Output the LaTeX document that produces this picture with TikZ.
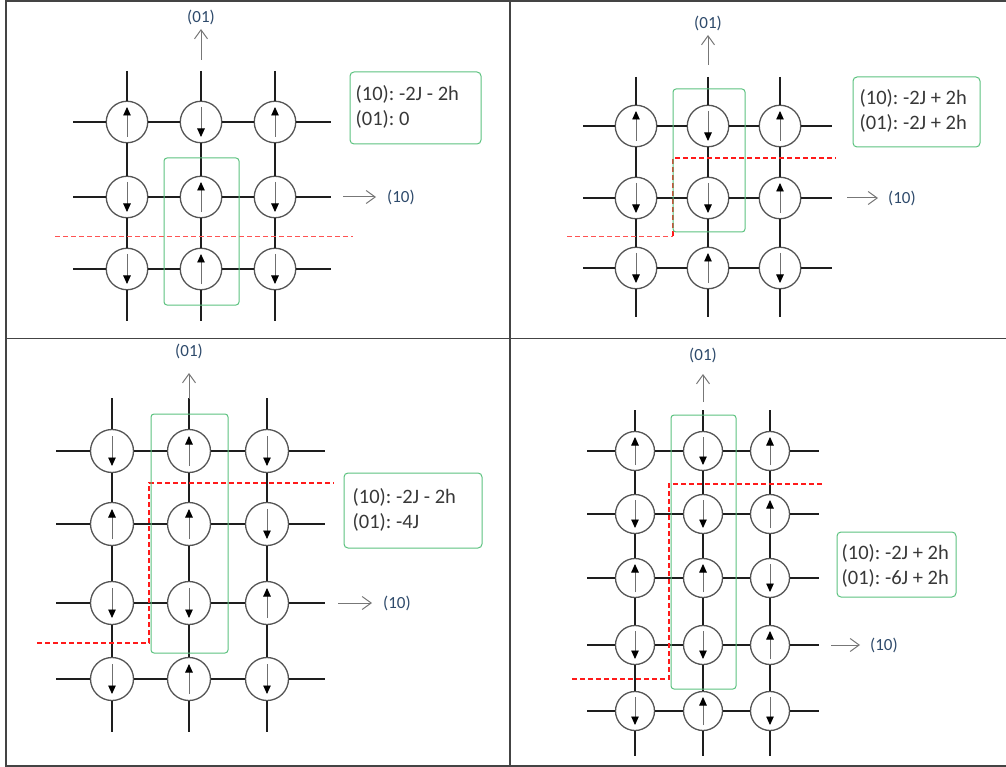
\documentclass[tikz,border=0pt]{standalone}
\usepackage{fontspec}
\setmainfont{Carlito}
\usetikzlibrary{arrows.meta}
\definecolor{gridc}{HTML}{1E1E1E}
\definecolor{circc}{HTML}{555555}
\definecolor{shaftc}{HTML}{707070}
\definecolor{axc}{HTML}{777777}
\definecolor{labc}{HTML}{2E4A6B}
\definecolor{boxg}{HTML}{5CC27F}
\definecolor{cutr}{HTML}{FF1A1A}
\definecolor{txtc}{HTML}{383838}
\definecolor{framec}{HTML}{444444}
\tikzset{
  site/.style={circle, draw=circc, line width=1.3pt, fill=white, inner sep=0pt},
  bond/.style={draw=gridc, line width=1.9pt},
  spin/.style={draw=shaftc, line width=0.9pt, -{Triangle[length=8.5pt,width=7.5pt,color=black]}},
  axis/.style={draw=axc, line width=1pt, -{Straight Barb[length=9pt,width=13pt]}},
  axlabel/.style={text=labc, font=\fontsize{17}{20}\selectfont, inner sep=0pt},
  cut/.style={draw=cutr, line width=1.3pt, dash pattern=on 5pt off 3pt},
  cutthin/.style={draw=cutr!75, line width=0.8pt, dash pattern=on 5pt off 3pt},
  greenbox/.style={draw=boxg, line width=1pt, rounded corners=3pt},
  infobox/.style={draw=boxg, line width=1pt, rounded corners=4pt, inner sep=0pt},
  boxtext/.style={align=left, text=txtc, font=\fontsize{20.5}{25}\selectfont\frenchspacing, inner sep=0pt},
  framel/.style={draw=framec, line width=1.4pt}
}
\newcommand\spinlen{15pt}
\newcommand\spinu[1]{\draw[spin] ([yshift=-\spinlen]#1.center) -- ([yshift=\spinlen]#1.center);}
\newcommand\spind[1]{\draw[spin] ([yshift=\spinlen]#1.center) -- ([yshift=-\spinlen]#1.center);}
% #1 prefix, #2 columns, #3 rows, #4 number of rows, #5 xL, #6 xR, #7 yT, #8 yB
\newcommand\lattice[8]{%
  \foreach \co/\x in {#2} { \foreach \ro/\y in {#3} { \node[site] (#1\ro\co) at (\x,\y) {}; } }
  \foreach \ro/\y in {#3} {
    \coordinate (#1L\ro) at (#5,\y); \coordinate (#1R\ro) at (#6,\y);
    \draw[bond] (#1L\ro) -- (#1\ro1) -- (#1\ro2) -- (#1\ro3) -- (#1R\ro);
  }
  \foreach \co/\x in {#2} {
    \coordinate (#1T\co) at (\x,#7); \coordinate (#1B\co) at (\x,#8);
    \foreach \ro [remember=\ro as \prev (initially T)] in {1,...,#4} { \draw[bond] (#1\prev\co) -- (#1\ro\co); }
    \draw[bond] (#1#4\co) -- (#1B\co);
  }
}
\newcommand\spins[2]{\foreach \ro/\co/\s in {#2} {\csname spin\s\endcsname{#1\ro\co}}}
\begin{document}
\begin{tikzpicture}[x=1pt,y=-1pt]
\useasboundingbox (0,0) rectangle (1006,767);
% table frame
\coordinate (fTL) at (6,1); \coordinate (fTR) at (1006,1);
\coordinate (fBL) at (6,766); \coordinate (fBR) at (1006,766);
\coordinate (fMT) at (510,1); \coordinate (fMB) at (510,766);
\coordinate (fML) at (6,338.5); \coordinate (fMR) at (1006,338.5);
\draw[framel] (fTR) -- (fTL) -- (fBL) -- (fBR);
\draw[framel] (fMT) -- (fMB);
\draw[framel] (fML) -- (fMR);

% ---------- panel 1 ----------
\begin{scope}[site/.append style={minimum size=41.5pt}]
\lattice{a}{1/127,2/201,3/275}{1/122,2/197,3/269}{3}{73}{331}{71}{321}
\spins{a}{1/1/u,1/2/d,1/3/u,2/1/d,2/2/u,2/3/d,3/1/d,3/2/u,3/3/d}
\end{scope}
\coordinate (aA0) at (201,60); \coordinate (aA1) at (201,29);
\draw[axis] (aA0) -- (aA1);
\node[axlabel] (a01) at (201,17) {(01)};
\coordinate (aB0) at (343,197); \coordinate (aB1) at (376,197);
\draw[axis] (aB0) -- (aB1);
\node[axlabel, anchor=west] (a10) at (387,197) {(10)};
\coordinate (aC0) at (55,236); \coordinate (aC1) at (353,236);
\draw[cutthin] (aC0) -- (aC1);
\draw[greenbox] (164,158) rectangle (239,305);
\node[infobox, minimum width=131pt, minimum height=72pt] (aBox) at (415.5,108) {};
\node[boxtext, anchor=west] (aTxt) at ([xshift=6pt,yshift=1.5pt]aBox.west) {(10): -2J - 2h\\(01): 0};

% ---------- panel 2 ----------
\begin{scope}[site/.append style={minimum size=41.5pt}]
\lattice{b}{1/636,2/708,3/780}{1/126,2/198,3/268}{3}{583}{832}{77}{317}
\spins{b}{1/1/u,1/2/d,1/3/u,2/1/d,2/2/d,2/3/u,3/1/d,3/2/u,3/3/d}
\end{scope}
\coordinate (bA0) at (708,65); \coordinate (bA1) at (708,35);
\draw[axis] (bA0) -- (bA1);
\node[axlabel] (b01) at (708,23) {(01)};
\coordinate (bB0) at (847,198); \coordinate (bB1) at (878,198);
\draw[axis] (bB0) -- (bB1);
\node[axlabel, anchor=west] (b10) at (888,198) {(10)};
\coordinate (bC0) at (567,236); \coordinate (bC1) at (673,236);
\coordinate (bC2) at (673,158); \coordinate (bC3) at (836,158);
\draw[cutthin] (bC0) -- (bC1);
\draw[cut] (bC1) -- (bC2) -- (bC3);
\draw[greenbox] (673,89) rectangle (745,232);
\node[infobox, minimum width=127pt, minimum height=70pt] (bBox) at (916.5,112) {};
\node[boxtext, anchor=west] (bTxt) at ([xshift=7pt,yshift=1.5pt]bBox.west) {(10): -2J + 2h\\(01): -2J + 2h};

% ---------- panel 3 ----------
\begin{scope}[site/.append style={minimum size=43pt}]
\lattice{c}{1/112,2/189,3/267}{1/451,2/524,3/603,4/679}{4}{56}{325}{398}{732}
\spins{c}{1/1/d,1/2/u,1/3/d,2/1/u,2/2/u,2/3/d,3/1/d,3/2/d,3/3/u,4/1/d,4/2/u,4/3/d}
\end{scope}
\coordinate (cA0) at (189,399); \coordinate (cA1) at (189,373);
\draw[axis] (cA0) -- (cA1);
\node[axlabel] (c01) at (189,351) {(01)};
\coordinate (cB0) at (338,603); \coordinate (cB1) at (372,603);
\draw[axis] (cB0) -- (cB1);
\node[axlabel, anchor=west] (c10) at (383,603) {(10)};
\coordinate (cC0) at (37,643); \coordinate (cC1) at (149,643);
\coordinate (cC2) at (149,483); \coordinate (cC3) at (334,483);
\draw[cut] (cC0) -- (cC1) -- (cC2) -- (cC3);
\draw[greenbox] (151,414) rectangle (228,653);
\node[infobox, minimum width=138pt, minimum height=75pt] (cBox) at (413,510.5) {};
\node[boxtext, anchor=west] (cTxt) at ([xshift=9pt,yshift=1pt]cBox.west) {(10): -2J - 2h\\(01): -4J};

% ---------- panel 4 ----------
\renewcommand\spinlen{14pt}
\begin{scope}[site/.append style={minimum size=39pt}]
\lattice{d}{1/635,2/703,3/770}{1/451,2/514,3/578,4/645,5/711}{5}{587}{819}{410}{756}
\spins{d}{1/1/u,1/2/d,1/3/u,2/1/d,2/2/d,2/3/u,3/1/u,3/2/u,3/3/d,4/1/d,4/2/d,4/3/u,5/1/d,5/2/u,5/3/d}
\end{scope}
\coordinate (dA0) at (703,402); \coordinate (dA1) at (703,374);
\draw[axis] (dA0) -- (dA1);
\node[axlabel] (d01) at (703,355) {(01)};
\coordinate (dB0) at (831,645); \coordinate (dB1) at (860,645);
\draw[axis] (dB0) -- (dB1);
\node[axlabel, anchor=west] (d10) at (870,645) {(10)};
\coordinate (dC0) at (572,679); \coordinate (dC1) at (669,679);
\coordinate (dC2) at (669,484); \coordinate (dC3) at (824,484);
\draw[cut] (dC0) -- (dC1) -- (dC2) -- (dC3);
\draw[greenbox] (671,415) rectangle (736,689);
\node[infobox, minimum width=119pt, minimum height=65pt] (dBox) at (896.5,564.5) {};
\node[boxtext, anchor=west] (dTxt) at ([xshift=5pt,yshift=-1.5pt]dBox.west) {(10): -2J + 2h\\(01): -6J + 2h};
\end{tikzpicture}
\end{document}
